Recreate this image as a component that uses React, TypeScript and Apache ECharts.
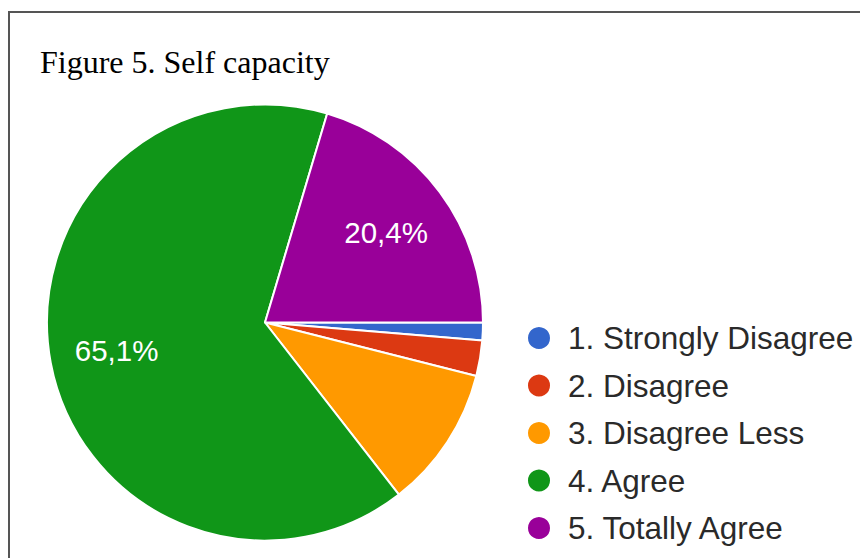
import React, { useEffect, useRef } from "react";
import * as echarts from "echarts";

const titleText = "Figure 5. Self capacity";
const categories = [
  "1. Strongly Disagree",
  "2. Disagree",
  "3. Disagree Less",
  "4. Agree",
  "5. Totally Agree",
];
const counts = [2, 4, 16, 99, 31];
const shownLabels = ["65,1%", "20,4%"];
const colors = ["#3366cc", "#dc3912", "#ff9900", "#109618", "#990099"];

export default function App() {
  const ref = useRef<HTMLDivElement>(null);
  useEffect(() => {
    if (!ref.current) return;
    const chart = echarts.init(ref.current, null, { renderer: "svg" });
    const total = counts.reduce((a, b) => a + b, 0);
    const fmtPct = (v: number) => ((v / total) * 100).toFixed(1).replace(".", ",") + "%";
    const data = categories.map((name, i) => ({
      name,
      value: counts[i],
      itemStyle: { color: colors[i] },
    }));
    const labelData = categories.map((name, i) => ({
      name,
      value: counts[i],
      label: { show: shownLabels.includes(fmtPct(counts[i])) },
    }));
    chart.setOption({
      animation: false,
      title: {
        text: titleText,
        left: 32,
        top: 38,
        padding: 0,
        textStyle: {
          fontFamily: "Liberation Serif",
          fontSize: 32,
          fontWeight: "normal",
          color: "#000",
        },
      },
      graphic: [
        { type: "line", shape: { x1: 0, y1: 4, x2: 860, y2: 4 }, style: { stroke: "#555", lineWidth: 2 } },
        { type: "line", shape: { x1: 1, y1: 4, x2: 1, y2: 560 }, style: { stroke: "#555", lineWidth: 2 } },
      ],
      legend: {
        orient: "vertical",
        left: 518,
        top: 314,
        icon: "circle",
        itemWidth: 24,
        itemHeight: 24,
        itemGap: 15.5,
        padding: 0,
        data: categories,
        textStyle: {
          fontFamily: "Liberation Sans",
          fontSize: 31.5,
          lineHeight: 30,
          color: "#2a2a2a",
          padding: [0, 0, 0, 12],
        },
      },
      series: [
        {
          type: "pie",
          center: [257, 314.5],
          radius: [0, 218],
          startAngle: 0,
          clockwise: true,
          data,
          label: { show: false },
          labelLine: { show: false },
          itemStyle: { borderColor: "#fff", borderWidth: 2 },
          emphasis: { disabled: true },
        },
        {
          type: "pie",
          center: [257, 314.5],
          radius: [78, 218],
          startAngle: 0,
          clockwise: true,
          silent: true,
          legendHoverLink: false,
          data: labelData,
          itemStyle: { color: "rgba(0,0,0,0)", borderWidth: 0 },
          label: {
            position: "inside",
            formatter: (p: any) => fmtPct(p.value),
            color: "#fff",
            fontFamily: "Liberation Sans",
            fontSize: 29.5,
          },
          labelLine: { show: false },
          emphasis: { disabled: true },
        },
      ],
    });
    return () => chart.dispose();
  }, []);
  return <div ref={ref} style={{ width: 860, height: 550 }} />;
}
